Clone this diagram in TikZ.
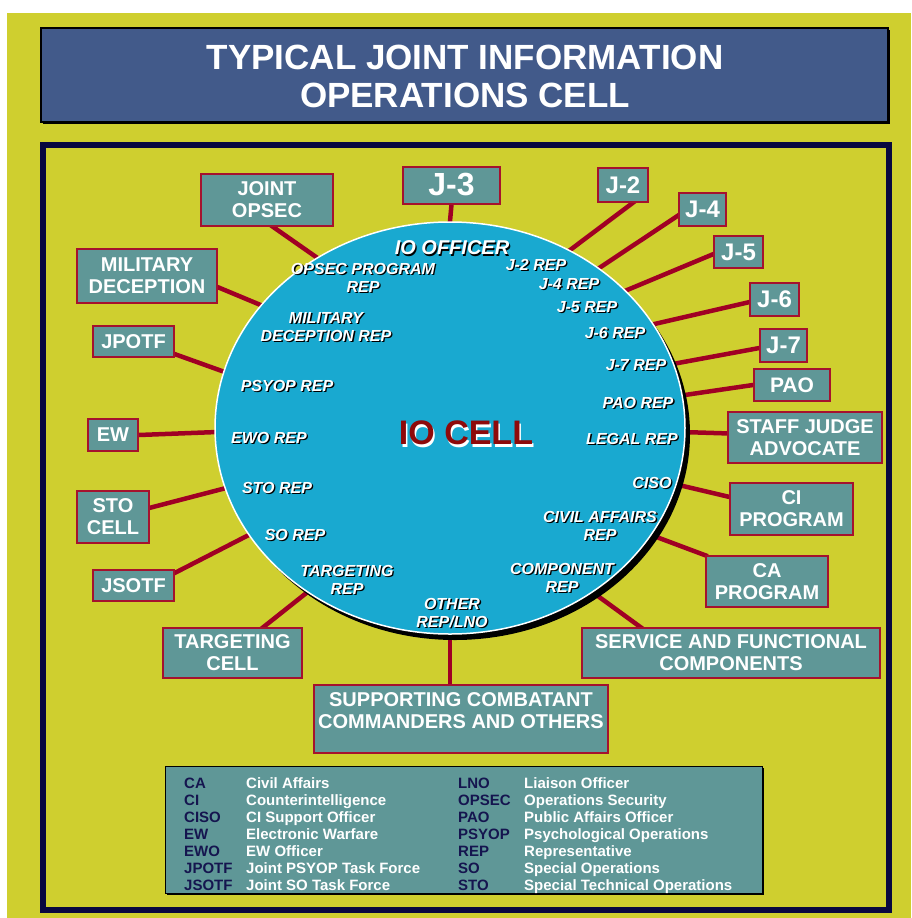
\documentclass[tikz,border=0pt]{standalone}
\usepackage{fontspec}
\setmainfont{Liberation Sans}
\usetikzlibrary{shapes.geometric}
\pgfdeclarelayer{back}
\pgfdeclarelayer{wires}
\pgfsetlayers{back,wires,main}

\definecolor{field}{HTML}{CFCF2F}
\definecolor{framenavy}{HTML}{08083F}
\definecolor{titleblue}{HTML}{425A8A}
\definecolor{cellblue}{HTML}{19A9D0}
\definecolor{unitfill}{HTML}{5F9797}
\definecolor{unitedge}{HTML}{A5122E}
\definecolor{wire}{HTML}{A00024}
\definecolor{cellred}{HTML}{8E0A0A}
\definecolor{abbrblue}{HTML}{15154F}

\tikzset{
  unit/.style={draw=unitedge, line width=2pt, fill=unitfill, text=white,
    font=\bfseries\fontsize{20}{22}\selectfont, align=center, inner sep=0pt},
  link/.style={draw=wire, line width=4.5pt, shorten <=-3pt, shorten >=-3pt},
  rep/.style={text=white, font=\bfseries\itshape\fontsize{16}{18}\selectfont,
    align=center, inner sep=0pt},
  repshadow/.style={text=black, xshift=1.3pt, yshift=-1.3pt},
  abbr/.style={text=abbrblue, font=\bfseries\fontsize{15}{17}\selectfont,
    inner sep=0pt, anchor=base west},
  expl/.style={abbr, text=white},
}

% white italic label with a dark drop shadow, written inside the cell
\newcommand\cellrep[4][]{%
  \node[rep,#1,repshadow] (#3s) at (#2) {#4};
  \node[rep,#1] (#3) at (#2) {#4};}

\begin{document}
\begin{tikzpicture}[x=1pt,y=-1pt]
\useasboundingbox (0,0) rectangle (911,918);

\begin{pgfonlayer}{back}
  \fill[white] (0,0) rectangle (911,918);
  \fill[field] (7,13) rectangle (911,918);
\end{pgfonlayer}

% heading
\node[fill=black, minimum width=847pt, minimum height=94pt, inner sep=0pt]
  (titleshade) at (466.5,77) {};
\node[fill=titleblue, draw=black, line width=1.2pt, minimum width=847pt,
  minimum height=94pt, inner sep=0pt] (titlebox) at (464.5,75) {};
\node[text=white, font=\bfseries\fontsize{35}{38}\selectfont, align=center]
  (title) at (465,76) {TYPICAL JOINT INFORMATION\\OPERATIONS CELL};

% outer frame
\node[draw=framenavy, line width=6pt, minimum width=846pt, minimum height=765pt,
  inner sep=0pt] (frame) at (466,527.5) {};

% the IO cell
\node[ellipse, fill=black, minimum width=470pt, minimum height=412pt,
  inner sep=0pt] (ioshade) at (455,434) {};
\node[ellipse, fill=cellblue, draw=white, line width=1.5pt, minimum width=470pt,
  minimum height=412pt, inner sep=0pt] (io) at (450,428) {};

\node[text=white, font=\bfseries\fontsize{34}{36}\selectfont, inner sep=0pt,
  xshift=1.5pt, yshift=-2.5pt] (iocellshade) at (466,433) {IO CELL};
\node[text=cellred, font=\bfseries\fontsize{34}{36}\selectfont, inner sep=0pt]
  (iocell) at (466,433) {IO CELL};

\cellrep[font=\bfseries\itshape\fontsize{20}{22}\selectfont]{452,248}{ioofficer}{IO OFFICER}
\cellrep{363,277.5}{ropsec}{OPSEC PROGRAM\\REP}
\cellrep{326,327}{rmildec}{MILITARY\\DECEPTION REP}
\cellrep{287,386}{rpsyop}{PSYOP REP}
\cellrep{269,438}{rewo}{EWO REP}
\cellrep{277,488}{rsto}{STO REP}
\cellrep{295,535}{rso}{SO REP}
\cellrep{347,579.5}{rtgt}{TARGETING\\REP}
\cellrep{452,613}{rother}{OTHER\\REP/LNO}
\cellrep{562,578}{rcomp}{COMPONENT\\REP}
\cellrep{600,525.5}{rca}{CIVIL AFFAIRS\\REP}
\cellrep{652,483}{rciso}{CISO}
\cellrep{632,439}{rlegal}{LEGAL REP}
\cellrep{638,403}{rpao}{PAO REP}
\cellrep{636,365}{rj7}{J-7 REP}
\cellrep{615,333}{rj6}{J-6 REP}
\cellrep{587,307}{rj5}{J-5 REP}
\cellrep{569,284}{rj4}{J-4 REP}
\cellrep{536,265}{rj2}{J-2 REP}

% staff elements around the cell
\node[unit, minimum width=132pt, minimum height=52pt] (jopsec) at (267,200) {JOINT\\OPSEC};
\node[unit, minimum width=140pt, minimum height=54pt] (mildec) at (147,276) {MILITARY\\DECEPTION};
\node[unit, minimum width=81pt, minimum height=31pt] (jpotf) at (133.5,341.5) {JPOTF};
\node[unit, minimum width=97pt, minimum height=37pt, font=\bfseries\fontsize{32}{34}\selectfont] (j3) at (451.5,185) {J-3};
\node[unit, minimum width=50pt, minimum height=34pt, font=\bfseries\fontsize{24}{26}\selectfont] (j2) at (623,185) {J-2};
\node[unit, minimum width=47pt, minimum height=33pt, font=\bfseries\fontsize{24}{26}\selectfont] (j4) at (702.5,209.5) {J-4};
\node[unit, minimum width=49pt, minimum height=32pt, font=\bfseries\fontsize{24}{26}\selectfont] (j5) at (738.5,252) {J-5};
\node[unit, minimum width=49pt, minimum height=33pt, font=\bfseries\fontsize{24}{26}\selectfont] (j6) at (774.5,299.5) {J-6};
\node[unit, minimum width=47pt, minimum height=33pt, font=\bfseries\fontsize{24}{26}\selectfont] (j7) at (783.5,345.5) {J-7};
\node[unit, minimum width=76pt, minimum height=32pt, font=\bfseries\fontsize{21}{23}\selectfont] (pao) at (792,385) {PAO};
\node[unit, minimum width=154pt, minimum height=51pt] (sja) at (805,437.5) {STAFF JUDGE\\ADVOCATE};
\node[unit, minimum width=123pt, minimum height=52pt] (ci) at (791.5,509) {CI\\PROGRAM};
\node[unit, minimum width=122pt, minimum height=51pt] (ca) at (767,581.5) {CA\\PROGRAM};
\node[unit, minimum width=298pt, minimum height=50pt] (svc) at (731,653) {SERVICE AND FUNCTIONAL\\COMPONENTS};
\node[unit, minimum width=294pt, minimum height=68pt] (supp) at (461,719) {};
\node[text=white, font=\bfseries\fontsize{20}{22}\selectfont, align=center, inner sep=0pt]
  (supptext) at ([yshift=8pt]supp.center) {SUPPORTING COMBATANT\\COMMANDERS AND OTHERS};
\node[unit, minimum width=139pt, minimum height=50pt] (tgt) at (232.5,653) {TARGETING\\CELL};
\node[unit, minimum width=81pt, minimum height=31pt] (jsotf) at (133.5,585.5) {JSOTF};
\node[unit, minimum width=72pt, minimum height=52pt] (sto) at (113,517) {STO\\CELL};
\node[unit, minimum width=50pt, minimum height=32pt] (ew) at (113,435) {EW};

% connectors, laid under the cell and the boxes
\begin{pgfonlayer}{wires}
  \draw[link] (jopsec.-77) -- (io.128.5);
  \draw[link] (mildec.-9) -- (io.147.6);
  \draw[link] (jpotf.-17) -- (io.166.4);
  \draw[link] (j3.south) -- (io.90);
  \draw[link] (j2.-62) -- (io.56);
  \draw[link] (j4.194) -- (io.47);
  \draw[link] (j5.185) -- (io.38.5);
  \draw[link] (j6.186) -- (io.27);
  \draw[link] (j7.186) -- (io.16.5);
  \draw[link] (pao.west) -- (io.8);
  \draw[link] (sja.177) -- (io.-1);
  \draw[link] (ci.169) -- (io.-14);
  \draw[link] (ca.157) -- (io.-28);
  \draw[link] (svc.164) -- (io.-49.5);
  \draw[link] (io.south) -- (io.south |- supp.north);
  \draw[link] (tgt.40) -- (io.-131.3);
  \draw[link] (jsotf.17.6) -- (io.208.6);
  \draw[link] (sto.14) -- (io.195);
  \draw[link] (ew.east) -- (io.181);
\end{pgfonlayer}

% key to abbreviations
\node[fill=black, minimum width=597pt, minimum height=127pt, inner sep=0pt]
  (legendshade) at (465.5,831.5) {};
\node[fill=unitfill, draw=black, line width=1pt, minimum width=597pt,
  minimum height=127pt, inner sep=0pt] (legend) at (463.5,829.5) {};
\foreach \ab/\ex/\abb/\exx [count=\i] in {
  CA/Civil Affairs/LNO/Liaison Officer,
  CI/Counterintelligence/OPSEC/Operations Security,
  CISO/CI Support Officer/PAO/Public Affairs Officer,
  EW/Electronic Warfare/PSYOP/Psychological Operations,
  EWO/EW Officer/REP/Representative,
  JPOTF/Joint PSYOP Task Force/SO/Special Operations,
  JSOTF/Joint SO Task Force/STO/Special Technical Operations}{
  \node[abbr] (la\i) at (184,771+17*\i) {\ab};
  \node[expl] (le\i) at (246,771+17*\i) {\ex};
  \node[abbr] (ra\i) at (458,771+17*\i) {\abb};
  \node[expl] (re\i) at (524,771+17*\i) {\exx};
}
\end{tikzpicture}
\end{document}
